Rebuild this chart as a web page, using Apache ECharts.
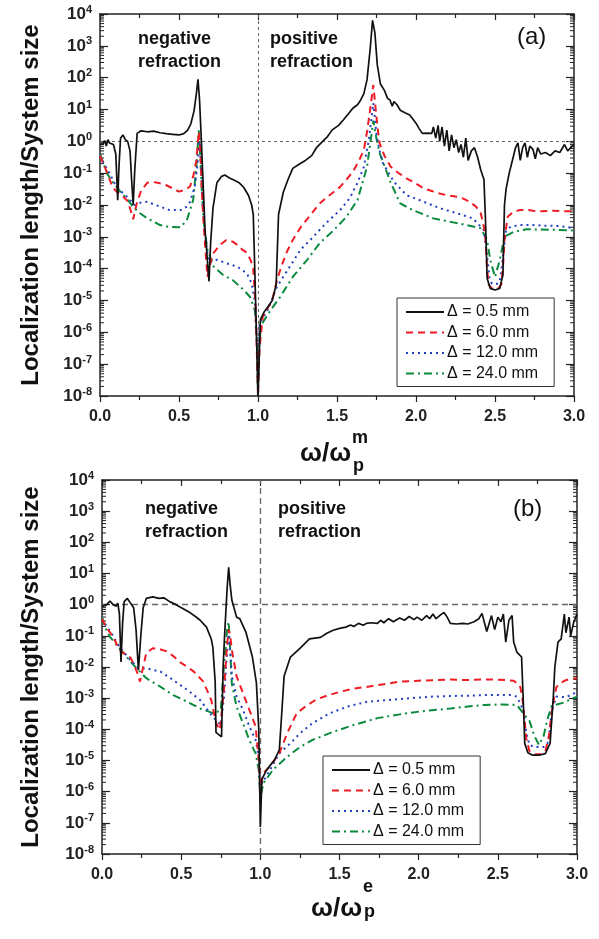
<!DOCTYPE html>
<html>
<head>
<meta charset="utf-8">
<script src="https://cdn.jsdelivr.net/npm/echarts@6/dist/echarts.min.js"></script>
<style>
  html, body { margin: 0; padding: 0; background: #fff; }
  #chart { width: 599px; height: 939px; }
</style>
</head>
<body>
<div id="chart"></div>
<script>
// legend names (same four widths in both panels)
const names = ['\u0394 = 0.5 mm', '\u0394 = 6.0 mm', '\u0394 = 12.0 mm', '\u0394 = 24.0 mm']
// decades shown on the y axis, 10^-8 .. 10^4
const yDecades = [-8, -7, -6, -5, -4, -3, -2, -1, 0, 1, 2, 3, 4]
const minorFactors = [2, 3, 4, 5, 6, 7, 8, 9]

// values as [omega/omega_p, log10(localization length / system size)]
// panel (a), magnetic plasma frequency
const a05 = [[0.00,-0.1],[0.02,-0.08],[0.03,0.02],[0.04,-0.15],[0.05,0.05],[0.06,-0.05],[0.07,0.0],[0.085,-0.1],[0.10,-0.4],[0.112,-1.85],[0.12,-0.8],[0.13,0.1],[0.145,0.2],[0.16,0.05],[0.175,0.0],[0.19,-0.3],[0.20,-1.2],[0.21,-2.0],[0.22,-0.9],[0.235,0.25],[0.26,0.33],[0.30,0.3],[0.34,0.32],[0.38,0.27],[0.42,0.24],[0.46,0.22],[0.50,0.2],[0.53,0.24],[0.555,0.35],[0.575,0.55],[0.595,0.95],[0.61,1.5],[0.62,1.95],[0.63,1.3],[0.64,0.2],[0.65,-1.0],[0.665,-2.8],[0.69,-4.4],[0.70,-3.2],[0.715,-2.1],[0.74,-1.3],[0.77,-1.1],[0.79,-1.06],[0.82,-1.15],[0.85,-1.22],[0.88,-1.3],[0.91,-1.45],[0.94,-1.7],[0.96,-2.0],[0.97,-2.3],[0.98,-4.1],[0.99,-6.0],[1.0,-8],[1.01,-8],[1.015,-5.6],[1.04,-5.35],[1.07,-5.15],[1.09,-5.0],[1.115,-4.5],[1.13,-2.3],[1.16,-1.6],[1.19,-1.2],[1.22,-0.85],[1.26,-0.72],[1.30,-0.6],[1.34,-0.45],[1.37,-0.2],[1.40,-0.05],[1.44,0.15],[1.47,0.36],[1.51,0.5],[1.54,0.67],[1.57,0.85],[1.60,1.04],[1.63,1.15],[1.65,1.3],[1.67,1.5],[1.69,1.93],[1.71,2.9],[1.725,3.8],[1.74,3.4],[1.755,2.4],[1.775,1.8],[1.80,1.6],[1.82,1.35],[1.835,1.3],[1.85,1.1],[1.86,1.25],[1.88,1.15],[1.90,0.98],[1.93,0.9],[1.96,0.83],[1.98,0.7],[2.0,0.57],[2.02,0.4],[2.04,0.25],[2.07,0.26],[2.10,0.25],[2.11,0.45],[2.125,0.1],[2.14,0.5],[2.15,0.0],[2.165,0.45],[2.18,-0.15],[2.195,0.35],[2.21,-0.3],[2.225,0.2],[2.24,-0.2],[2.255,0.05],[2.27,-0.35],[2.285,-0.1],[2.30,-0.5],[2.315,0.1],[2.33,-0.6],[2.35,-0.3],[2.37,-0.2],[2.39,-0.5],[2.41,-0.9],[2.43,-1.2],[2.44,-2.5],[2.45,-4.3],[2.47,-4.62],[2.50,-4.67],[2.53,-4.62],[2.55,-4.2],[2.56,-2.0],[2.57,-1.5],[2.59,-1.0],[2.61,-0.6],[2.63,-0.2],[2.645,-0.05],[2.66,-0.6],[2.675,-0.2],[2.69,-0.05],[2.705,-0.5],[2.72,-0.15],[2.74,-0.25],[2.755,-0.55],[2.77,-0.2],[2.79,-0.4],[2.82,-0.35],[2.85,-0.45],[2.88,-0.3],[2.91,-0.35],[2.94,-0.1],[2.96,-0.3],[2.98,-0.2],[3.0,-0.1]]
const a60 = [[0.0,-0.45],[0.03,-0.8],[0.05,-1.05],[0.08,-1.45],[0.11,-1.6],[0.14,-1.7],[0.17,-1.85],[0.19,-2.1],[0.21,-2.45],[0.23,-2.0],[0.26,-1.55],[0.30,-1.3],[0.34,-1.28],[0.38,-1.32],[0.42,-1.38],[0.46,-1.48],[0.50,-1.58],[0.54,-1.52],[0.57,-1.42],[0.59,-1.1],[0.61,-0.6],[0.625,0.3],[0.635,-0.3],[0.645,-1.6],[0.655,-2.5],[0.67,-3.6],[0.68,-4.25],[0.70,-3.8],[0.72,-3.5],[0.76,-3.25],[0.80,-3.1],[0.84,-3.15],[0.87,-3.26],[0.90,-3.4],[0.93,-3.5],[0.955,-3.75],[0.97,-4.0],[0.985,-5.2],[1.0,-8],[1.01,-6.5],[1.03,-5.5],[1.06,-5.25],[1.09,-5.0],[1.12,-4.36],[1.15,-3.9],[1.18,-3.5],[1.22,-3.1],[1.27,-2.7],[1.31,-2.45],[1.35,-2.2],[1.39,-1.95],[1.45,-1.7],[1.52,-1.43],[1.56,-1.2],[1.60,-0.96],[1.64,-0.6],[1.67,-0.27],[1.69,0.3],[1.71,1.0],[1.73,1.77],[1.745,1.0],[1.76,0.3],[1.77,-0.06],[1.80,-0.45],[1.84,-0.8],[1.89,-1.0],[1.94,-1.16],[2.0,-1.33],[2.05,-1.48],[2.10,-1.56],[2.15,-1.64],[2.20,-1.7],[2.26,-1.74],[2.30,-1.8],[2.34,-1.9],[2.38,-2.05],[2.41,-2.26],[2.43,-2.7],[2.44,-3.1],[2.45,-4.0],[2.46,-4.5],[2.48,-4.62],[2.50,-4.64],[2.52,-4.62],[2.54,-4.5],[2.55,-4.0],[2.56,-3.1],[2.58,-2.37],[2.62,-2.2],[2.66,-2.16],[2.70,-2.15],[2.74,-2.18],[2.80,-2.2],[2.87,-2.18],[2.93,-2.2],[3.0,-2.2]]
const a120 = [[0.0,-0.45],[0.03,-0.75],[0.06,-1.0],[0.09,-1.3],[0.13,-1.55],[0.17,-1.74],[0.22,-2.0],[0.26,-1.92],[0.30,-1.9],[0.34,-1.98],[0.38,-2.05],[0.44,-2.16],[0.51,-2.16],[0.55,-2.05],[0.57,-1.9],[0.60,-1.43],[0.62,-0.6],[0.63,0.1],[0.64,-0.8],[0.65,-2.0],[0.665,-3.0],[0.68,-3.5],[0.69,-3.8],[0.71,-3.78],[0.74,-3.72],[0.80,-3.83],[0.87,-3.94],[0.93,-4.15],[0.96,-4.47],[0.98,-5.0],[0.995,-6.5],[1.0,-8],[1.005,-6.5],[1.01,-5.7],[1.06,-5.3],[1.12,-4.57],[1.18,-4.1],[1.27,-3.4],[1.35,-3.0],[1.43,-2.57],[1.52,-2.16],[1.58,-1.79],[1.63,-1.3],[1.67,-0.8],[1.70,0.0],[1.73,1.2],[1.75,0.2],[1.77,-0.3],[1.79,-0.68],[1.86,-1.27],[1.94,-1.69],[2.05,-1.9],[2.15,-2.1],[2.26,-2.26],[2.36,-2.42],[2.43,-2.79],[2.45,-3.63],[2.465,-4.3],[2.48,-4.47],[2.52,-4.47],[2.535,-4.3],[2.55,-3.63],[2.57,-2.8],[2.6,-2.68],[2.66,-2.63],[2.74,-2.63],[2.82,-2.65],[2.91,-2.66],[3.0,-2.73]]
const a240 = [[0.0,-0.4],[0.03,-0.8],[0.05,-1.05],[0.08,-1.27],[0.13,-1.59],[0.17,-1.8],[0.21,-2.06],[0.25,-2.25],[0.30,-2.42],[0.38,-2.63],[0.44,-2.69],[0.51,-2.7],[0.55,-2.47],[0.59,-1.84],[0.61,-0.8],[0.625,0.35],[0.635,-0.5],[0.645,-1.6],[0.66,-2.69],[0.68,-3.4],[0.72,-3.94],[0.78,-4.2],[0.84,-4.36],[0.91,-4.67],[0.95,-4.89],[0.98,-5.3],[0.995,-6.5],[1.0,-8],[1.005,-6.5],[1.02,-5.77],[1.08,-5.3],[1.14,-4.89],[1.22,-4.26],[1.31,-3.73],[1.39,-3.2],[1.48,-2.79],[1.56,-2.37],[1.63,-1.84],[1.69,-0.8],[1.715,0.1],[1.73,0.65],[1.745,0.2],[1.77,-0.37],[1.84,-1.3],[1.90,-1.95],[1.98,-2.16],[2.11,-2.42],[2.22,-2.53],[2.32,-2.63],[2.41,-2.73],[2.45,-3.1],[2.47,-3.73],[2.50,-4.26],[2.53,-3.73],[2.56,-3.0],[2.62,-2.84],[2.70,-2.76],[2.87,-2.78],[3.0,-2.8]]

// panel (b), electric plasma frequency
const b05 = [[0.0,-0.05],[0.03,0.0],[0.05,0.12],[0.06,0.15],[0.07,0.0],[0.08,0.05],[0.09,-0.05],[0.10,0.05],[0.11,-0.3],[0.12,-1.84],[0.13,-0.6],[0.14,0.1],[0.16,0.2],[0.18,0.05],[0.20,-0.1],[0.215,-0.8],[0.23,-2.1],[0.245,-1.0],[0.26,-0.1],[0.28,0.2],[0.32,0.25],[0.36,0.2],[0.39,0.22],[0.43,0.09],[0.46,0.02],[0.49,-0.07],[0.53,-0.18],[0.56,-0.27],[0.59,-0.38],[0.62,-0.5],[0.66,-0.72],[0.69,-1.1],[0.70,-1.36],[0.715,-2.5],[0.72,-4.1],[0.755,-4.24],[0.765,-2.0],[0.775,-0.9],[0.79,0.5],[0.80,1.2],[0.81,0.6],[0.82,0.15],[0.85,-0.4],[0.87,-0.45],[0.91,-0.9],[0.95,-1.68],[0.975,-2.5],[0.99,-4.0],[1.0,-7.13],[1.01,-5.6],[1.04,-5.3],[1.09,-4.98],[1.12,-4.66],[1.135,-3.5],[1.15,-2.3],[1.19,-1.68],[1.25,-1.4],[1.31,-1.1],[1.38,-1.05],[1.42,-0.92],[1.46,-0.82],[1.50,-0.76],[1.54,-0.72],[1.57,-0.65],[1.59,-0.7],[1.62,-0.6],[1.65,-0.66],[1.67,-0.6],[1.70,-0.58],[1.74,-0.6],[1.76,-0.5],[1.78,-0.58],[1.81,-0.45],[1.84,-0.55],[1.88,-0.43],[1.91,-0.5],[1.94,-0.38],[1.97,-0.48],[1.99,-0.4],[2.02,-0.5],[2.05,-0.35],[2.07,-0.45],[2.09,-0.3],[2.11,-0.45],[2.14,-0.32],[2.16,-0.25],[2.18,-0.4],[2.20,-0.6],[2.24,-0.62],[2.28,-0.6],[2.31,-0.62],[2.35,-0.55],[2.38,-0.45],[2.40,-0.28],[2.43,-0.86],[2.46,-0.35],[2.48,-0.8],[2.50,-0.4],[2.52,-0.55],[2.535,-0.3],[2.55,-1.2],[2.57,-0.5],[2.59,-0.35],[2.60,-1.2],[2.62,-1.52],[2.65,-1.68],[2.66,-3.0],[2.67,-4.45],[2.69,-4.75],[2.72,-4.83],[2.76,-4.83],[2.80,-4.78],[2.83,-4.45],[2.85,-3.0],[2.86,-2.0],[2.88,-1.2],[2.90,-1.1],[2.92,-0.3],[2.93,-0.9],[2.95,-0.4],[2.96,-1.0],[2.98,-0.55],[3.0,-0.3]]
const b60 = [[0.0,-0.45],[0.03,-0.75],[0.07,-1.03],[0.11,-1.45],[0.15,-1.6],[0.18,-1.7],[0.20,-1.9],[0.22,-2.15],[0.24,-2.47],[0.26,-2.0],[0.28,-1.55],[0.32,-1.4],[0.36,-1.42],[0.41,-1.5],[0.45,-1.65],[0.49,-1.84],[0.54,-2.0],[0.58,-2.15],[0.64,-2.47],[0.69,-3.06],[0.72,-3.8],[0.745,-4.02],[0.77,-2.74],[0.79,-1.3],[0.80,-0.8],[0.81,-1.0],[0.82,-1.45],[0.85,-2.3],[0.89,-2.83],[0.93,-3.37],[0.97,-3.9],[0.99,-4.98],[1.0,-5.85],[1.02,-5.4],[1.06,-5.2],[1.12,-4.77],[1.17,-4.12],[1.23,-3.48],[1.29,-3.25],[1.35,-3.05],[1.42,-2.92],[1.50,-2.8],[1.58,-2.7],[1.67,-2.64],[1.78,-2.55],[1.88,-2.47],[2.0,-2.44],[2.1,-2.42],[2.2,-2.4],[2.31,-2.42],[2.40,-2.4],[2.47,-2.4],[2.55,-2.42],[2.60,-2.44],[2.64,-2.6],[2.655,-3.0],[2.665,-3.48],[2.68,-4.3],[2.70,-4.7],[2.73,-4.8],[2.77,-4.8],[2.80,-4.7],[2.82,-4.3],[2.84,-3.48],[2.855,-3.0],[2.87,-2.64],[2.90,-2.5],[2.93,-2.42],[3.0,-2.35]]
const b120 = [[0.0,-0.45],[0.03,-0.7],[0.06,-0.92],[0.11,-1.36],[0.18,-1.78],[0.23,-2.04],[0.28,-2.04],[0.37,-2.15],[0.45,-2.42],[0.54,-2.74],[0.62,-3.06],[0.70,-3.6],[0.75,-3.86],[0.77,-3.0],[0.79,-1.5],[0.80,-0.95],[0.81,-1.5],[0.82,-2.3],[0.85,-2.95],[0.89,-3.37],[0.93,-3.9],[0.97,-4.34],[0.99,-4.9],[1.0,-5.8],[1.04,-5.5],[1.12,-4.77],[1.19,-4.45],[1.25,-4.13],[1.33,-3.8],[1.44,-3.48],[1.55,-3.27],[1.67,-3.12],[1.78,-3.07],[1.88,-3.03],[2.0,-2.98],[2.09,-2.95],[2.2,-2.93],[2.31,-2.92],[2.41,-2.9],[2.51,-2.9],[2.58,-2.9],[2.62,-2.95],[2.66,-3.37],[2.68,-4.13],[2.70,-4.5],[2.73,-4.57],[2.79,-4.57],[2.82,-4.4],[2.84,-3.4],[2.87,-2.95],[2.93,-2.97],[3.0,-2.8]]
const b240 = [[0.0,-0.4],[0.02,-0.75],[0.05,-1.03],[0.11,-1.4],[0.20,-1.94],[0.28,-2.36],[0.37,-2.64],[0.45,-2.9],[0.54,-3.12],[0.62,-3.33],[0.70,-3.48],[0.75,-3.4],[0.77,-2.0],[0.79,-0.8],[0.80,-0.55],[0.81,-1.5],[0.82,-2.53],[0.85,-3.27],[0.89,-3.8],[0.93,-4.34],[0.97,-4.77],[0.99,-5.3],[1.0,-6.17],[1.02,-5.72],[1.08,-5.3],[1.17,-4.88],[1.25,-4.57],[1.33,-4.34],[1.46,-4.08],[1.59,-3.86],[1.74,-3.64],[1.88,-3.52],[1.99,-3.44],[2.1,-3.38],[2.2,-3.33],[2.31,-3.27],[2.41,-3.22],[2.53,-3.2],[2.62,-3.22],[2.66,-3.48],[2.70,-3.73],[2.73,-4.2],[2.76,-4.5],[2.79,-4.2],[2.81,-3.73],[2.84,-3.25],[2.91,-3.15],[3.0,-2.95]]

const panelData = [[a05, a60, a120, a240], [b05, b60, b120, b240]]

let myChart = echarts.init(document.getElementById('chart'))
const font = 'Liberation Sans, Arial, Helvetica, sans-serif'
const axisColor = '#222'
const colors = ['#111111', '#ee1c25', '#2340c0', '#0a8a3c']
const dashes = ['solid', [7, 5], [2, 4], [8, 4, 2, 4]]
const widths = [1.7, 2, 2, 2]

// pixel boxes of the two plots
const grids = [
  { left: 100, top: 14, width: 474, height: 382 },
  { left: 102, top: 480, width: 475, height: 374 }
]

function toPoints(arr) {
  return arr.map(p => [p[0], Math.pow(10, p[1])])
}

function makeXAxes(g) {
  const base = {
    gridIndex: g, type: 'value', min: 0, max: 3, interval: 0.5,
    splitLine: { show: false },
    axisLine: { onZero: false, lineStyle: { color: axisColor, width: 1.5 } }
  }
  return [
    Object.assign({}, base, {
      position: 'bottom',
      axisTick: { inside: false, length: 6, lineStyle: { color: axisColor, width: 1.2 } },
      minorTick: { show: true, splitNumber: 2, length: 4, lineStyle: { color: axisColor, width: 1.2 } },
      axisLabel: {
        margin: 13, color: axisColor, fontFamily: font, fontWeight: 'bold', fontSize: 16,
        formatter: v => v.toFixed(1)
      }
    }),
    Object.assign({}, base, {
      position: 'top',
      axisTick: { inside: true, length: 6, lineStyle: { color: axisColor, width: 1.2 } },
      minorTick: { show: true, splitNumber: 2, length: 4, lineStyle: { color: axisColor, width: 1.2 } },
      axisLabel: { show: false }
    })
  ]
}

function makeYAxes(g) {
  const base = {
    gridIndex: g, type: 'log', logBase: 10, min: 1e-8, max: 1e4, interval: 1,
    splitLine: { show: false },
    axisLine: { onZero: false, lineStyle: { color: axisColor, width: 1.5 } },
    axisTick: { inside: true, length: 8, lineStyle: { color: axisColor, width: 1.2 } }
  }
  return [
    Object.assign({}, base, {
      position: 'left',
      axisLabel: {
        margin: 8,
        formatter: v => '{b|10}{s|' + Math.round(Math.log10(v)) + '}',
        rich: {
          b: { fontFamily: font, fontWeight: 'bold', fontSize: 17, lineHeight: 20, color: axisColor },
          s: { fontFamily: font, fontWeight: 'bold', fontSize: 11, lineHeight: 10, verticalAlign: 'top', color: axisColor }
        }
      }
    }),
    Object.assign({}, base, { position: 'right', axisLabel: { show: false } })
  ]
}

// minor log ticks on the left and right frame of each plot
const minorVals = []
yDecades.slice(0, -1).forEach(d => {
  minorFactors.forEach(k => minorVals.push([0, k * Math.pow(10, d)]))
})

function minorTickSeries(g) {
  return {
    type: 'custom',
    xAxisIndex: g * 2, yAxisIndex: g * 2,
    silent: true, z: 5,
    data: minorVals,
    renderItem: (params, api) => {
      const v = api.value(1)
      const l = api.coord([0, v])
      const r = api.coord([3, v])
      const st = { stroke: axisColor, lineWidth: 1 }
      return {
        type: 'group',
        children: [
          { type: 'line', shape: { x1: l[0], y1: l[1], x2: l[0] + 4, y2: l[1] }, style: st },
          { type: 'line', shape: { x1: r[0] - 4, y1: r[1], x2: r[0], y2: r[1] }, style: st }
        ]
      }
    }
  }
}

const series = []
panelData.forEach((sets, g) => {
  sets.forEach((arr, i) => {
    const s = {
      name: names[i],
      type: 'line',
      xAxisIndex: g * 2,
      yAxisIndex: g * 2,
      data: toPoints(arr),
      symbol: 'none',
      z: 10 - i,
      lineStyle: { color: colors[i], width: widths[i], type: dashes[i] },
      itemStyle: { color: colors[i] }
    }
    if (i === 0) {
      s.markLine = {
        silent: true,
        symbol: 'none',
        label: { show: false },
        z: 1,
        lineStyle: { color: '#666', width: g === 0 ? 1 : 1.3, type: g === 0 ? [3, 3] : [6, 4] },
        data: [{ yAxis: 1 }, { xAxis: 1 }]
      }
    }
    series.push(s)
  })
  series.push(minorTickSeries(g))
})

const legendBase = {
  orient: 'vertical',
  data: names,
  itemWidth: 38,
  itemHeight: 14,
  itemGap: 4.5,
  padding: [6, 16, 5, 8],
  borderColor: '#333',
  borderWidth: 1,
  borderRadius: 0,
  backgroundColor: '#fff',
  selectedMode: false,
  // hide the marker dot, keep the line sample
  itemStyle: { opacity: 0, borderWidth: 0 },
  textStyle: { fontFamily: font, fontSize: 16, lineHeight: 16, color: '#111', padding: [0, 0, 0, -2] }
}

function txt(x, y, text, size, weight, extra) {
  return {
    type: 'text', x: x, y: y, silent: true,
    style: Object.assign({
      text: text, fontFamily: font, fontSize: size, fontWeight: weight, fill: '#111',
      textAlign: 'left', textVerticalAlign: 'middle'
    }, extra || {})
  }
}

const graphics = [
  // y titles
  txt(31, 205, 'Localization length/System size', 24, 'bold', { textAlign: 'center' }),
  txt(31, 667, 'Localization length/System size', 24, 'bold', { textAlign: 'center' }),
  // x titles
  txt(300, 454, '\u03c9/\u03c9', 26, 'bold'),
  txt(352, 438, 'm', 18, 'bold'),
  txt(353, 466, 'p', 18, 'bold'),
  txt(311, 909, '\u03c9/\u03c9', 26, 'bold'),
  txt(363, 887, 'e', 18, 'bold'),
  txt(364, 912, 'p', 18, 'bold'),
  // annotations
  txt(138, 28, 'negative\nrefraction', 18, 'bold', { textVerticalAlign: 'top', lineHeight: 23 }),
  txt(270, 28, 'positive\nrefraction', 18, 'bold', { textVerticalAlign: 'top', lineHeight: 23 }),
  txt(517, 37, '(a)', 24, 'normal'),
  txt(145, 498, 'negative\nrefraction', 18, 'bold', { textVerticalAlign: 'top', lineHeight: 23 }),
  txt(278, 498, 'positive\nrefraction', 18, 'bold', { textVerticalAlign: 'top', lineHeight: 23 }),
  txt(513, 509, '(b)', 24, 'normal')
]
// rotate y titles to read bottom-to-top
graphics[0].rotation = Math.PI / 2
graphics[1].rotation = Math.PI / 2

myChart.setOption({
  animation: false,
  backgroundColor: '#fff',
  grid: grids,
  xAxis: makeXAxes(0).concat(makeXAxes(1)),
  yAxis: makeYAxes(0).concat(makeYAxes(1)),
  legend: [
    Object.assign({}, legendBase, { left: 397, top: 298 }),
    Object.assign({}, legendBase, { left: 323, top: 756 })
  ],
  graphic: graphics,
  series: series
})
</script>
</body>
</html>
